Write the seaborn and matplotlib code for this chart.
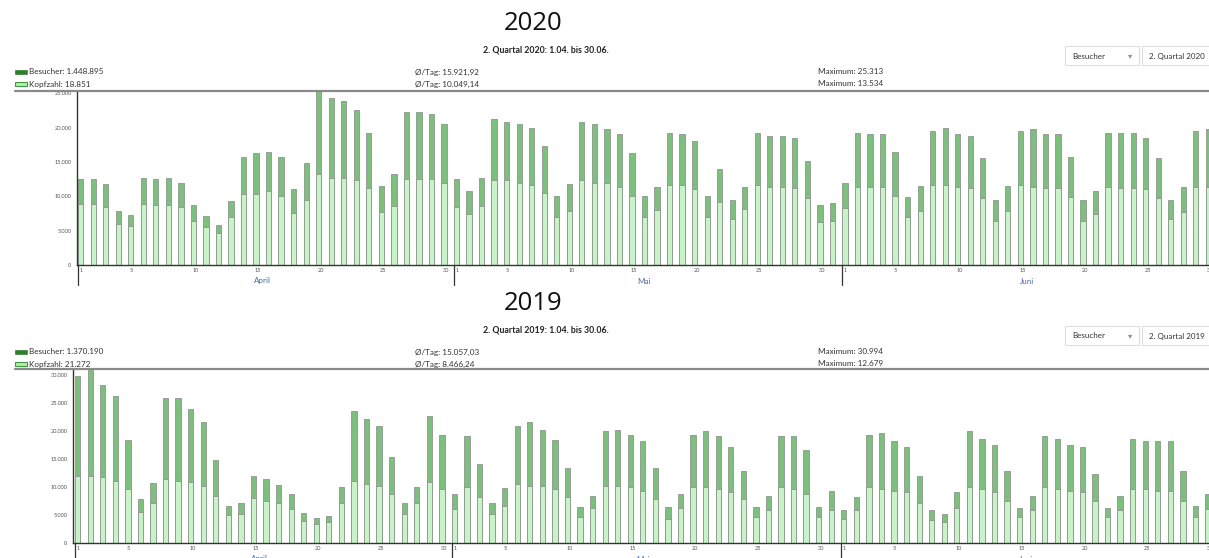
import numpy as np
import pandas as pd
import matplotlib
matplotlib.use("Agg")
import matplotlib.pyplot as plt
import matplotlib.transforms as mtransforms
from matplotlib.patches import Rectangle
from matplotlib.lines import Line2D
import seaborn as sns

# ---------------- data (values in thousands) ----------------
months = ["April", "Mai", "Juni"]
month_days = [30, 31, 30]
tick_days = [1, 5, 10, 15, 20, 25, 30]

besucher_2020 = [
    12.5, 12.5, 11.8, 7.8, 7.3, 12.7, 12.5, 12.7, 12.0, 8.75, 7.1, 5.8, 9.3, 15.7, 16.3,
    16.5, 15.7, 11.1, 14.8, 25.313, 24.3, 23.9, 22.5, 19.2, 11.5, 13.2, 22.3, 22.3, 22.0, 20.5,
    12.5, 10.8, 12.7, 21.25, 20.8, 20.5, 19.95, 17.3, 10.0, 11.8, 20.8, 20.5, 19.8, 19.0, 16.3,
    10.0, 11.3, 19.2, 19.0, 18.0, 10.0, 13.9, 9.5, 11.4, 19.2, 18.75, 18.75, 18.5, 15.2, 8.75, 9.0,
    12.0, 19.2, 19.0, 19.0, 16.5, 9.9, 11.5, 19.5, 19.95, 19.0, 18.75, 15.5, 9.5, 11.5, 19.5,
    19.8, 19.0, 19.0, 15.7, 9.5, 10.7, 19.2, 19.2, 19.2, 18.5, 15.5, 9.5, 11.3, 19.5, 19.8]
kopfzahl_2020 = [
    8.9, 8.9, 8.4, 6.0, 5.7, 8.9, 8.75, 8.75, 8.4, 6.4, 5.5, 4.7, 7.0, 10.4, 10.4,
    10.7, 10.1, 7.5, 9.4, 13.3, 12.6, 12.6, 12.3, 11.2, 7.7, 8.65, 12.45, 12.45, 12.45, 11.9,
    8.4, 7.45, 8.65, 12.4, 12.3, 11.9, 11.7, 10.5, 7.0, 7.9, 12.3, 11.9, 11.9, 11.4, 10.1,
    7.0, 8.0, 11.7, 11.7, 11.0, 7.0, 9.1, 6.7, 8.2, 11.7, 11.4, 11.4, 11.2, 9.7, 6.25, 6.4,
    8.3, 11.4, 11.4, 11.4, 10.1, 7.0, 7.9, 11.7, 11.7, 11.4, 11.2, 9.7, 6.4, 7.9, 11.7,
    11.4, 11.2, 11.2, 9.85, 6.4, 7.45, 11.4, 11.2, 11.2, 11.0, 9.7, 6.7, 7.7, 11.4, 11.4]

besucher_2019 = [
    29.7, 30.994, 28.2, 26.1, 18.3, 7.8, 10.6, 25.8, 25.8, 23.8, 21.6, 14.7, 6.6, 7.2, 11.9,
    11.35, 10.35, 8.8, 5.35, 4.5, 4.8, 10.0, 23.5, 22.1, 20.8, 15.3, 7.2, 10.0, 22.6, 19.3,
    8.8, 19.0, 14.0, 7.2, 9.8, 20.8, 21.5, 20.2, 18.3, 13.4, 6.35, 8.4, 19.9, 20.1, 19.2,
    18.1, 13.4, 6.35, 8.8, 19.2, 19.9, 19.0, 17.1, 12.9, 6.35, 8.4, 19.0, 19.0, 16.5, 6.35, 9.3,
    5.8, 8.2, 19.2, 19.6, 18.1, 17.1, 11.9, 5.8, 5.1, 9.1, 19.9, 18.5, 17.4, 12.8, 6.2,
    8.4, 19.0, 18.5, 17.4, 17.1, 12.35, 6.2, 8.4, 18.5, 18.1, 18.1, 18.1, 12.8, 6.6, 8.8]
kopfzahl_2019 = [
    11.9, 12.0, 11.8, 11.1, 9.6, 5.6, 7.2, 11.35, 11.1, 10.8, 10.2, 8.4, 5.0, 5.2, 8.1,
    7.5, 7.1, 6.1, 4.0, 3.4, 3.7, 7.1, 11.1, 10.5, 10.2, 8.7, 5.2, 7.1, 10.8, 9.6,
    6.1, 9.9, 8.2, 5.1, 6.6, 10.5, 10.2, 10.2, 9.6, 8.2, 4.6, 6.2, 10.2, 10.2, 9.9,
    9.3, 7.8, 4.3, 6.2, 9.9, 9.9, 9.6, 9.1, 7.8, 4.6, 5.9, 9.9, 9.6, 8.7, 4.6, 5.9,
    4.3, 5.9, 9.9, 9.6, 9.3, 9.1, 7.2, 4.1, 3.8, 6.2, 9.9, 9.6, 9.1, 7.5, 4.6,
    5.9, 9.9, 9.6, 9.3, 9.0, 7.5, 4.6, 5.9, 9.6, 9.6, 9.3, 9.3, 7.5, 4.6, 6.1]

stats_2020 = ["Besucher: 1.448.895", "Kopfzahl: 18.851", "Ø/Tag: 15.921,92",
              "Ø/Tag: 10.049,14", "Maximum: 25.313", "Maximum: 13.534"]
stats_2019 = ["Besucher: 1.370.190", "Kopfzahl: 21.272", "Ø/Tag: 15.057,03",
              "Ø/Tag: 8.466,24", "Maximum: 30.994", "Maximum: 12.679"]

# ---------------- style ----------------
W, H = 1209, 558
sns.set_style("white")
plt.rcParams['font.family'] = ['Lato', 'DejaVu Sans']

DARK = "#7dbf7d"
LIGHT = "#c8f2c8"
EDGE = "#8c968c"
BLUE = "#4a6aa8"

fig = plt.figure(figsize=(W / 100, H / 100), dpi=100)
fig.patch.set_facecolor("white")


def fx(px):
    return px / W


def fy(py):
    return 1 - py / H


def panel(year, besucher, kopf, stats, y0, ax_left, ax_top, ax_bottom, day_w, first_px):
    # ---- headings ----
    fig.text(fx(533), fy(y0 + 23), str(year), fontsize=18.5, family=["Open Sans", "DejaVu Sans"],
             ha="center", va="center", color="#111")
    fig.text(fx(546), fy(y0 + 50), f"2. Quartal {year}: 1.04. bis 30.06.", fontsize=6.3,
             fontweight="bold", ha="center", va="center", color="#222")
    # legend swatches
    fig.patches.append(Rectangle((fx(15), fy(y0 + 74)), fx(12), 4 / H, transform=fig.transFigure,
                                 facecolor="#2f7f2f", edgecolor="#2f7f2f", lw=0.5))
    fig.patches.append(Rectangle((fx(15), fy(y0 + 86)), fx(12), 4 / H, transform=fig.transFigure,
                                 facecolor="#b6ecb0", edgecolor="#3e9a3e", lw=0.8))
    for i, x in enumerate([29, 29, 415, 415, 818, 818]):
        row = i % 2
        fig.text(fx(x), fy(y0 + 72 + 12 * row), stats[i], fontsize=5.9, ha="left", va="center",
                 color="#333")
    # dropdowns
    for (x1, x2, label) in [(1065, 1139, "Besucher"), (1142, 1216, f"2. Quartal {year}")]:
        fig.patches.append(Rectangle((fx(x1), fy(y0 + 65)), fx(x2 - x1), 19 / H,
                                     transform=fig.transFigure, facecolor="white",
                                     edgecolor="#dedede", lw=0.8))
        fig.text(fx(x1 + 7), fy(y0 + 56), label, fontsize=5.8, ha="left", va="center", color="#333")
    fig.text(fx(1130), fy(y0 + 56), "▾", fontsize=6, ha="center", va="center",
             color="#8090b8", family=["DejaVu Sans"])
    # horizontal rule on top of plot area
    fig.lines.append(Line2D([fx(15), fx(1209)], [fy(ax_top), fy(ax_top)],
                            transform=fig.transFigure, color="#8a8a8a", lw=1.6))

    # ---- axes ----
    ax = fig.add_axes([fx(ax_left), fy(ax_bottom), fx(W - ax_left), (ax_bottom - ax_top) / H])
    ax.set_facecolor("white")
    n = len(besucher)
    df = pd.DataFrame({"pos": np.arange(n),
                       "Besucher": np.array(besucher) * 1000,
                       "Kopfzahl": np.array(kopf) * 1000})
    bw = 0.42
    sns.barplot(data=df, x="pos", y="Besucher", native_scale=True, width=bw, color=DARK,
                saturation=1, edgecolor=EDGE, linewidth=0.6, errorbar=None, ax=ax)
    sns.barplot(data=df, x="pos", y="Kopfzahl", native_scale=True, width=bw, color=LIGHT,
                saturation=1, edgecolor=EDGE, linewidth=0.6, errorbar=None, ax=ax)

    left = -bw / 2 - (first_px - ax_left) / day_w
    right = left + (W - ax_left) / day_w
    ax.set_xlim(left, right)
    ymax = df["Besucher"].max()
    ax.set_ylim(0, ymax)
    ax.set_xlabel("")
    ax.set_ylabel("")

    yt = np.arange(0, ymax + 1, 5000)
    ax.set_yticks(yt)
    ax.set_yticklabels([f"{int(v):,}".replace(",", ".") for v in yt], fontsize=4, color="#555")
    ax.tick_params(axis="y", length=3, width=0.6, color="#555", pad=1)

    for s in ["top", "right"]:
        ax.spines[s].set_visible(False)
    for s in ["left", "bottom"]:
        ax.spines[s].set_color("#333")
        ax.spines[s].set_linewidth(1.0)

    # x ticks: day marks and month separators
    axh = ax_bottom - ax_top
    trans = mtransforms.blended_transform_factory(ax.transData, ax.transAxes)
    xt = []
    start = 0
    for m, nd in zip(months, month_days):
        for d in tick_days:
            if d <= nd:
                pos = start + d - 1 - bw / 2
                xt.append(pos)
                ax.text(pos + 0.12, -3 / axh, str(d), transform=trans, fontsize=4,
                        ha="left", va="top", color="#555")
        sep = start - bw / 2
        ax.plot([sep, sep], [0, -20 / axh], transform=trans, color="#333", lw=0.9,
                clip_on=False)
        ax.text(start + nd / 2 - 0.5, -16 / axh, m, transform=trans, fontsize=5.8,
                ha="center", va="center", color=BLUE)
        start += nd
    ax.set_xticks(xt)
    ax.set_xticklabels([])
    ax.tick_params(axis="x", length=6, width=0.6, color="#555", direction="out")
    return ax


panel(2020, besucher_2020, kopfzahl_2020, stats_2020, y0=0, ax_left=77, ax_top=91,
      ax_bottom=265, day_w=12.53, first_px=78)
panel(2019, besucher_2019, kopfzahl_2019, stats_2019, y0=280, ax_left=73, ax_top=369,
      ax_bottom=543, day_w=12.56, first_px=75)

fig.savefig("out.png", dpi=100, facecolor="white")
